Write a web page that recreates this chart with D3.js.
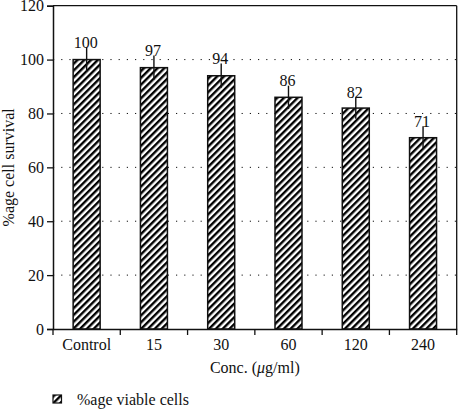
<!DOCTYPE html>
<html><head><meta charset="utf-8">
<script src="https://cdn.jsdelivr.net/npm/d3@7"></script>
<style>body{margin:0;background:#fff}svg{display:block}text{font-family:"Liberation Serif","DejaVu Serif",serif;fill:#111}</style>
</head><body><svg id="c" width="458" height="412"></svg>
<script>
const categories = ["Control","15","30","60","120","240"];
const values = [100,97,94,86,82,71];
const errors = [4.5,4.5,4.5,4.3,4,4.3];
const yTicks = [0,20,40,60,80,100,120];
const seriesName = "%age viable cells";

const svg = d3.select("#c");
const m = {l:53, r:1.3, t:5.7, b:83};
const W = 458, H = 412;
const x = d3.scaleBand().domain(categories).range([m.l, W-m.r]).paddingInner(0).paddingOuter(0);
const y = d3.scaleLinear().domain([0,120]).range([H-m.b, m.t]);
const barW = 27;

const defs = svg.append("defs");
const P = 4.8;
const pat = defs.append("pattern").attr("id","hatch").attr("patternUnits","userSpaceOnUse")
  .attr("width",P).attr("height",P).attr("patternTransform","rotate(45)");
pat.append("rect").attr("width",P).attr("height",P).attr("fill","#fff");
pat.append("rect").attr("x",0).attr("y",0).attr("width",2.4).attr("height",P).attr("fill","#000");

// grid
svg.append("g").selectAll("line").data(yTicks.filter(d=>d>0&&d<120)).join("line")
  .attr("x1",m.l).attr("x2",W-m.r).attr("y1",d=>y(d)).attr("y2",d=>y(d))
  .attr("stroke","#111").attr("stroke-width",1).attr("stroke-dasharray","1.2,7");

// bars
svg.append("g").selectAll("rect").data(values).join("rect")
  .attr("x",(d,i)=>x(categories[i])+x.bandwidth()/2-barW/2)
  .attr("y",d=>y(d)).attr("width",barW).attr("height",d=>y(0)-y(d))
  .attr("fill","url(#hatch)").attr("stroke","#111").attr("stroke-width",1.5);

// error bars
svg.append("g").selectAll("line").data(values).join("line")
  .attr("x1",(d,i)=>x(categories[i])+x.bandwidth()/2).attr("x2",(d,i)=>x(categories[i])+x.bandwidth()/2)
  .attr("y1",(d,i)=>y(d+errors[i])).attr("y2",(d,i)=>y(d-errors[i]))
  .attr("stroke","#111").attr("stroke-width",1.4);

// value labels
svg.append("g").selectAll("text").data(values).join("text")
  .attr("x",(d,i)=>x(categories[i])+x.bandwidth()/2-1)
  .attr("y",(d,i)=>y(d+errors[i])+0.5)
  .attr("text-anchor","middle").attr("font-size",16).text(d=>d);

// frame
svg.append("line").attr("x1",m.l).attr("x2",W-m.r).attr("y1",m.t).attr("y2",m.t).attr("stroke","#111").attr("stroke-width",1.3);
svg.append("line").attr("x1",W-m.r).attr("x2",W-m.r).attr("y1",m.t).attr("y2",H-m.b).attr("stroke","#111").attr("stroke-width",1.3);

// y axis
const ya = svg.append("g").attr("transform",`translate(${m.l},0)`)
  .call(d3.axisLeft(y).tickValues(yTicks).tickSize(6).tickPadding(3));
ya.select(".domain").attr("stroke","#111").attr("stroke-width",1.5);
ya.selectAll(".tick line").attr("stroke","#111").attr("stroke-width",1.3);
ya.selectAll(".tick text").attr("font-size",16).attr("font-family","Liberation Serif").attr("fill","#111");

// x axis
const xa = svg.append("g").attr("transform",`translate(0,${H-m.b})`)
  .call(d3.axisBottom(x).tickSize(0).tickPadding(10));
xa.select(".domain").attr("stroke","#111").attr("stroke-width",1.5);
xa.selectAll(".tick text").attr("font-size",16).attr("font-family","Liberation Serif").attr("fill","#111");
// band boundary ticks
xa.append("g").selectAll("line").data(categories).join("line")
  .attr("x1",d=>x(d)).attr("x2",d=>x(d)).attr("y1",0).attr("y2",6)
  .attr("stroke","#111").attr("stroke-width",1.3);
xa.append("line").attr("x1",W-m.r).attr("x2",W-m.r).attr("y1",0).attr("y2",6).attr("stroke","#111").attr("stroke-width",1.3);

// axis titles
svg.append("text").attr("transform",`translate(14,${(m.t+H-m.b)/2}) rotate(-90)`)
  .attr("text-anchor","middle").attr("font-size",16).text("%age cell survival");
svg.append("text").attr("x",(m.l+W-m.r)/2).attr("y",373).attr("text-anchor","middle").attr("font-size",16)
  .html('Conc. (<tspan font-style="italic">μ</tspan>g/ml)');

// legend
svg.append("rect").attr("x",53).attr("y",395).attr("width",8.5).attr("height",8)
  .attr("fill","url(#hatch)").attr("stroke","#111").attr("stroke-width",1.2);
svg.append("text").attr("x",77).attr("y",405).attr("font-size",16).text(seriesName);
</script></body></html>
